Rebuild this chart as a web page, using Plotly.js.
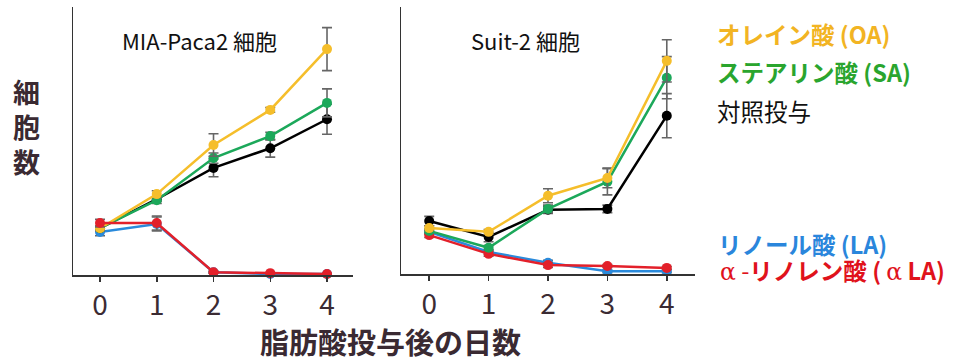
<!DOCTYPE html>
<html>
<head>
<meta charset="utf-8">
<script src="https://cdn.plot.ly/plotly-3.0.1.min.js"></script>
<style>html,body{margin:0;padding:0;background:#fff;}#chart{width:956px;height:361px;}</style>
</head>
<body>
<div id="chart"></div>
<script>
// ---- data ----
const days = [0, 1, 2, 3, 4];
const dayLabels = ["0", "1", "2", "3", "4"];

// MIA-Paca2 (relative cell number)
const miaOA    = [1.00, 1.73, 2.78, 3.53, 4.83];
const miaOAerr = [0.05, 0.07, 0.24, 0.05, 0.46];
const miaSA    = [1.00, 1.60, 2.50, 2.97, 3.68];
const miaSAerr = [0.05, 0.07, 0.11, 0.08, 0.30];
const miaCtrl    = [1.00, 1.62, 2.29, 2.71, 3.33];
const miaCtrlerr = [0.05, 0.05, 0.19, 0.19, 0.32];
const miaLA    = [0.92, 1.09, 0.06, 0.02, 0.02];
const miaLAerr = [0.08, 0.15, 0.02, 0.01, 0.01];
const miaALA    = [1.11, 1.11, 0.06, 0.04, 0.02];
const miaALAerr = [0.08, 0.15, 0.02, 0.01, 0.01];

// Suit-2
const suitOA    = [0.98, 0.90, 1.67, 2.05, 4.55];
const suitOAerr = [0.05, 0.05, 0.15, 0.21, 0.45];
const suitSA    = [0.92, 0.56, 1.39, 1.97, 4.19];
const suitSAerr = [0.05, 0.05, 0.08, 0.28, 0.45];
const suitCtrl    = [1.13, 0.79, 1.37, 1.39, 3.38];
const suitCtrlerr = [0.10, 0.10, 0.08, 0.08, 0.47];
const suitLA    = [0.90, 0.47, 0.24, 0.06, 0.06];
const suitLAerr = [0.05, 0.05, 0.05, 0.03, 0.03];
const suitALA    = [0.83, 0.43, 0.19, 0.17, 0.13];
const suitALAerr = [0.05, 0.05, 0.05, 0.03, 0.03];

const panelTitles = ["MIA-Paca2 細胞", "Suit-2 細胞"];
const seriesNames = ["オレイン酸 (OA)", "ステアリン酸 (SA)", "対照投与", "リノール酸 (LA)", "α-リノレン酸 (αLA)"];
const yTitle = "細<br>胞<br>数";
const xTitle = "脂肪酸投与後の日数";

// ---- styling ----
const FONT = '"Noto Sans CJK JP", "Noto Sans", sans-serif';
const W = 956, H = 361;
const px = v => v / W;
const py = v => 1 - v / H;
const col = {OA: "#F5BE2B", SA: "#1CA85A", Ctrl: "#000000", LA: "#2A8ADB", ALA: "#E3202A"};

function tr(x, y, err, c, xa, ya) {
  return {
    x: x, y: y, xaxis: xa, yaxis: ya, type: "scatter", mode: "lines+markers",
    cliponaxis: false,
    line: {color: c, width: 2.5},
    marker: {color: c, size: 10},
    error_y: {type: "data", array: err, visible: true, color: "#666", thickness: 1.6, width: 5},
    hoverinfo: "skip"
  };
}

const data = [
  tr(days, miaLA, miaLAerr, col.LA, "x", "y"),
  tr(days, miaCtrl, miaCtrlerr, col.Ctrl, "x", "y"),
  tr(days, miaSA, miaSAerr, col.SA, "x", "y"),
  tr(days, miaOA, miaOAerr, col.OA, "x", "y"),
  tr(days, miaALA, miaALAerr, col.ALA, "x", "y"),
  tr(days, suitLA, suitLAerr, col.LA, "x2", "y2"),
  tr(days, suitALA, suitALAerr, col.ALA, "x2", "y2"),
  tr(days, suitCtrl, suitCtrlerr, col.Ctrl, "x2", "y2"),
  tr(days, suitSA, suitSAerr, col.SA, "x2", "y2"),
  tr(days, suitOA, suitOAerr, col.OA, "x2", "y2")
];

function xax(domain, range, anchor) {
  return {
    domain: domain, range: range, anchor: anchor,
    tickmode: "array", tickvals: days, ticktext: dayLabels,
    ticks: "outside", ticklen: 5, tickwidth: 1.5, tickcolor: "#333",
    showline: true, linecolor: "#333", linewidth: 1.5,
    showgrid: false, zeroline: false, automargin: false,
    tickfont: {family: FONT, size: 28, color: "#3b2b33"}
  };
}
function yax(domain, range, anchor) {
  return {
    domain: domain, range: range, anchor: anchor,
    showline: true, linecolor: "#333", linewidth: 1.5,
    showticklabels: false, ticks: "", showgrid: false, zeroline: false, automargin: false
  };
}

function ann(text, x, y, size, color, opts) {
  return Object.assign({
    text: text, xref: "paper", yref: "paper", x: px(x), y: py(y),
    xanchor: "center", yanchor: "middle", showarrow: false,
    font: {family: FONT, size: size, color: color}
  }, opts || {});
}

const LEG = 23.5;
const annotations = [
  ann(panelTitles[0], 199, 40, 22, "#111"),
  ann(panelTitles[1], 525, 40, 22, "#111"),
  ann("<b>" + seriesNames[0] + "</b>", 715, 34, LEG, "#F2B423", {xanchor: "left"}),
  ann("<b>" + seriesNames[1] + "</b>", 715, 72, LEG, "#2AA52E", {xanchor: "left"}),
  ann(seriesNames[2], 715, 111, LEG, "#111", {xanchor: "left"}),
  ann("<b>" + seriesNames[3] + "</b>", 716, 244, LEG, "#2A86DC", {xanchor: "left"}),
  ann("<span style=\"font-family:'DejaVu Serif'\">α</span> -<b>リノレン酸 (</b> <span style=\"font-family:'DejaVu Serif'\">α</span> <b>LA)</b>", 718, 270, LEG, "#E0121C", {xanchor: "left"}),
  ann("<b>" + yTitle + "</b>", 26, 127, 27, "#3a2a32"),
  ann("<b>" + xTitle + "</b>", 390, 341, 29, "#3a2a32")
];

const layout = {
  width: W, height: H,
  margin: {l: 0, r: 0, t: 0, b: 0, pad: 0},
  paper_bgcolor: "#ffffff", plot_bgcolor: "rgba(0,0,0,0)",
  showlegend: false,
  font: {family: FONT},
  xaxis: xax([px(73), px(353)], [-0.476, 4.458], "y"),
  yaxis: yax([py(275), py(7)], [0, 5.73], "x"),
  xaxis2: xax([px(401), px(695)], [-0.475, 4.475], "y2"),
  yaxis2: yax([py(274), py(7)], [0, 5.70], "x2"),
  annotations: annotations
};

Plotly.newPlot("chart", data, layout, {staticPlot: true, displayModeBar: false});
</script>
</body>
</html>
